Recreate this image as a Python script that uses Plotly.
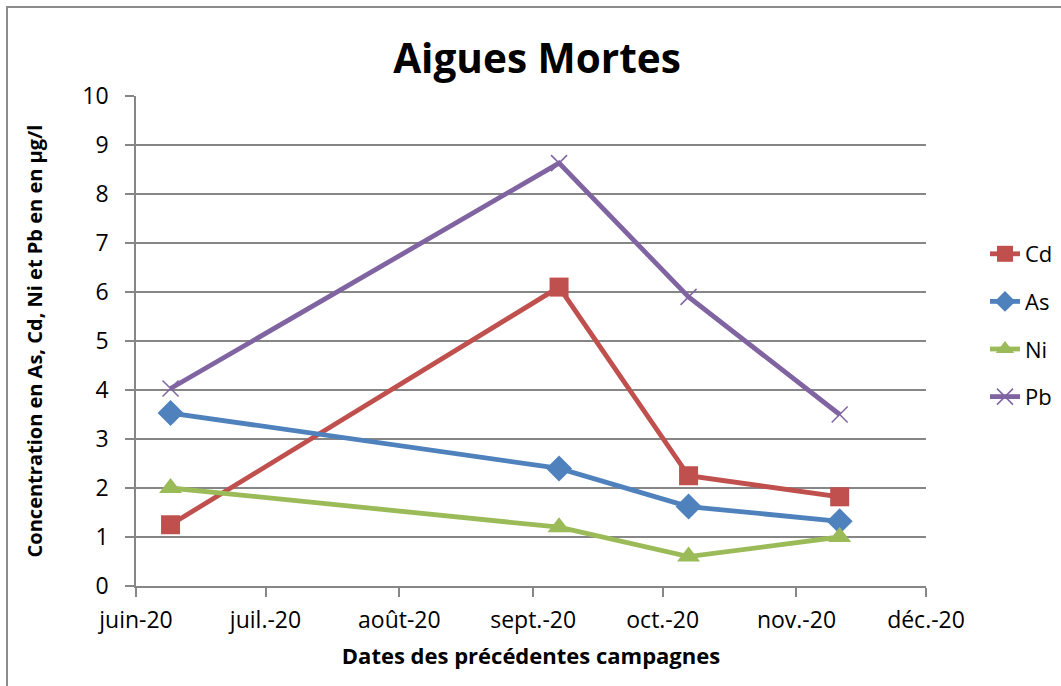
import plotly.graph_objects as go

dates = ["2020-06-09", "2020-09-07", "2020-10-07", "2020-11-11"]
cd = [1.25, 6.10, 2.25, 1.82]
as_ = [3.53, 2.40, 1.62, 1.32]
ni = [2.00, 1.20, 0.60, 1.00]
pb = [4.03, 8.63, 5.90, 3.50]

tick_dates = ["2020-06-01", "2020-07-01", "2020-08-01", "2020-09-01",
              "2020-10-01", "2020-11-01", "2020-12-01"]
tick_labels = ["juin-20", "juil.-20", "août-20", "sept.-20", "oct.-20", "nov.-20", "déc.-20"]

series = [
    ("Cd", cd, "#C0504D", "square", 19, 0),
    ("As", as_, "#4F81BD", "diamond", 20, 0),
    ("Ni", ni, "#9BBB59", "triangle-up", 20, 0),
    ("Pb", pb, "#8064A2", "x-thin", 16, 1.5),
]

FONT = "Open Sans"
fig = go.Figure()
for name, vals, color, sym, size, lw in series:
    fig.add_trace(go.Scatter(
        x=dates, y=vals, name=name, mode="lines+markers",
        legendgroup=name,
        line=dict(color=color, width=4.8),
        marker=dict(symbol=sym, size=size, color=color,
                    line=dict(width=lw, color=color)),
    ))

L, T, W, H = 136, 96, 790, 490
fig.update_layout(
    width=1061, height=686,
    margin=dict(l=L, r=1061 - L - W, t=T, b=686 - T - H, autoexpand=False),
    paper_bgcolor="white", plot_bgcolor="white",
    font=dict(family=FONT, color="black"),
    title=dict(text="<b>Aigues Mortes</b>", x=(537 - L) / W, xref="paper", xanchor="center",
               y=1 - 59 / 686, yanchor="middle",
               font=dict(size=40.5, family=FONT, color="black")),
    showlegend=True,
    legend=dict(x=(985 - L) / W, xanchor="left", y=(586 - 233) / H, yanchor="top",
                font=dict(size=22, family=FONT), tracegroupgap=16,
                traceorder="grouped", bgcolor="rgba(0,0,0,0)"),
    xaxis=dict(
        type="date", range=["2020-06-01", "2020-12-01"],
        tickvals=tick_dates, ticktext=tick_labels,
        showgrid=False, showline=True, linecolor="#868686", linewidth=1.5,
        ticks="outside", ticklen=9, tickcolor="#868686", tickwidth=1.5,
        tickfont=dict(size=23, family=FONT), ticklabelstandoff=4,
        title=dict(text="<b>Dates des précédentes campagnes</b>",
                   font=dict(size=22, family=FONT), standoff=14),
        zeroline=False,
    ),
    yaxis=dict(
        range=[0, 10], dtick=1,
        showgrid=True, gridcolor="#868686", gridwidth=1.5,
        showline=True, linecolor="#868686", linewidth=1.5,
        ticks="outside", ticklen=9, tickcolor="#868686", tickwidth=1.5,
        tickfont=dict(size=23, family=FONT), ticklabelstandoff=12,
        title=dict(text="<b>Concentration en As, Cd, Ni et Pb en en µg/l</b>",
                   font=dict(size=20, family=FONT), standoff=34),
        zeroline=False,
    ),
)

fig.add_shape(type="rect", xref="paper", yref="paper",
              x0=(7 - L) / W, x1=(1080 - L) / W,
              y0=(586 - 700) / H, y1=(586 - 7) / H,
              line=dict(color="#8C8C8C", width=2), fillcolor="rgba(0,0,0,0)", layer="below")

fig.write_html("out.html", config={"displayModeBar": False},
               post_script="document.body.style.margin='0';document.body.style.overflow='hidden';")
